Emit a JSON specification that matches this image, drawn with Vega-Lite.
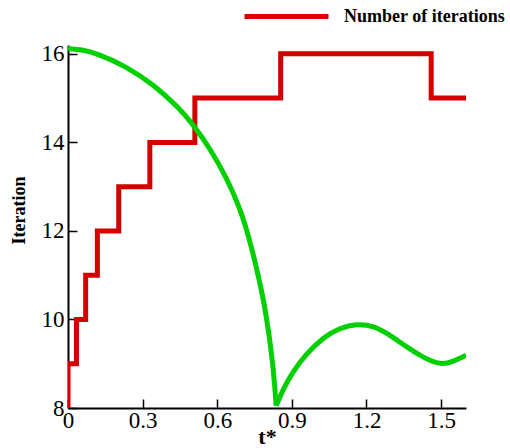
{
  "$schema": "https://vega.github.io/schema/vega-lite/v6.json",
  "width": 398,
  "height": 363,
  "autosize": {"type": "none"},
  "padding": {"left": 68, "top": 45, "right": 44, "bottom": 40},
  "background": "white",
  "config": {
    "view": {"stroke": null},
    "font": "Liberation Serif",
    "axis": {
      "grid": false,
      "domainColor": "black",
      "domainWidth": 2,
      "tickColor": "black",
      "tickWidth": 1.5,
      "tickSize": -9,
      "labelFlush": false,
      "labelFont": "Liberation Serif",
      "labelFontSize": 23,
      "labelColor": "black",
      "titleFont": "Liberation Serif",
      "titleFontWeight": "bold",
      "titleColor": "black"
    }
  },
  "layer": [
    {
      "data": {
        "values": [
          {"t": 0, "iter": 8, "series": "Number of iterations"},
          {"t": 0, "iter": 9, "series": "Number of iterations"},
          {"t": 0.034, "iter": 10, "series": "Number of iterations"},
          {"t": 0.071, "iter": 11, "series": "Number of iterations"},
          {"t": 0.118, "iter": 12, "series": "Number of iterations"},
          {"t": 0.204, "iter": 13, "series": "Number of iterations"},
          {"t": 0.329, "iter": 14, "series": "Number of iterations"},
          {"t": 0.51, "iter": 15, "series": "Number of iterations"},
          {"t": 0.855, "iter": 16, "series": "Number of iterations"},
          {"t": 1.46, "iter": 15, "series": "Number of iterations"},
          {"t": 1.6, "iter": 15, "series": "Number of iterations"}
        ]
      },
      "mark": {"type": "line", "interpolate": "step-after", "strokeWidth": 5, "strokeCap": "butt", "strokeJoin": "miter", "clip": true},
      "encoding": {
        "x": {
          "field": "t", "type": "quantitative",
          "scale": {"domain": [0, 1.6], "nice": false, "zero": false},
          "axis": {
            "values": [0, 0.3, 0.6, 0.9, 1.2, 1.5],
            "format": ".1~f",
            "labelPadding": 10,
            "title": "t*",
            "titleFontSize": 22,
            "titleY": 35,
            "titleBaseline": "alphabetic"
          }
        },
        "y": {
          "field": "iter", "type": "quantitative",
          "scale": {"domain": [8, 16.2], "nice": false, "zero": false},
          "axis": {
            "values": [8, 10, 12, 14, 16],
            "labelPadding": 13,
            "title": "Iteration",
            "titleFontSize": 18,
            "titleX": -49,
            "titleY": 165,
            "titleBaseline": "middle"
          }
        },
        "color": {
          "field": "series", "type": "nominal",
          "scale": {"domain": ["Number of iterations"], "range": ["#d40000"]},
          "legend": {
            "title": null,
            "orient": "none",
            "legendX": 174,
            "legendY": -73,
            "padding": 0,
            "symbolType": "stroke",
            "symbolSize": 7056,
            "symbolStrokeWidth": 5,
            "labelOffset": 13,
            "labelFont": "Liberation Serif",
            "labelFontWeight": "bold",
            "labelFontSize": 18,
            "labelColor": "black",
            "labelLimit": 300
          }
        }
      }
    },
    {
      "data": {
        "values": [
          {"t": 0, "v": 16.12, "part": "a"},
          {"t": 0.06, "v": 16.08, "part": "a"},
          {"t": 0.128, "v": 15.97, "part": "a"},
          {"t": 0.235, "v": 15.69, "part": "a"},
          {"t": 0.342, "v": 15.29, "part": "a"},
          {"t": 0.436, "v": 14.82, "part": "a"},
          {"t": 0.503, "v": 14.39, "part": "a"},
          {"t": 0.57, "v": 13.85, "part": "a"},
          {"t": 0.637, "v": 13.18, "part": "a"},
          {"t": 0.691, "v": 12.48, "part": "a"},
          {"t": 0.731, "v": 11.76, "part": "a"},
          {"t": 0.765, "v": 10.98, "part": "a"},
          {"t": 0.796, "v": 10.1, "part": "a"},
          {"t": 0.822, "v": 9.02, "part": "a"},
          {"t": 0.837, "v": 8.05, "part": "a"},
          {"t": 0.837, "v": 8.05, "part": "b"},
          {"t": 0.865, "v": 8.41, "part": "b"},
          {"t": 0.905, "v": 8.81, "part": "b"},
          {"t": 0.959, "v": 9.21, "part": "b"},
          {"t": 1.026, "v": 9.57, "part": "b"},
          {"t": 1.093, "v": 9.79, "part": "b"},
          {"t": 1.16, "v": 9.88, "part": "b"},
          {"t": 1.228, "v": 9.83, "part": "b"},
          {"t": 1.294, "v": 9.64, "part": "b"},
          {"t": 1.362, "v": 9.38, "part": "b"},
          {"t": 1.429, "v": 9.15, "part": "b"},
          {"t": 1.496, "v": 9.01, "part": "b"},
          {"t": 1.549, "v": 9.06, "part": "b"},
          {"t": 1.6, "v": 9.19, "part": "b"}
        ]
      },
      "mark": {"type": "line", "interpolate": "natural", "strokeWidth": 5, "color": "#00d000", "clip": true},
      "encoding": {
        "x": {"field": "t", "type": "quantitative"},
        "y": {"field": "v", "type": "quantitative"},
        "detail": {"field": "part", "type": "nominal"}
      }
    }
  ]
}
